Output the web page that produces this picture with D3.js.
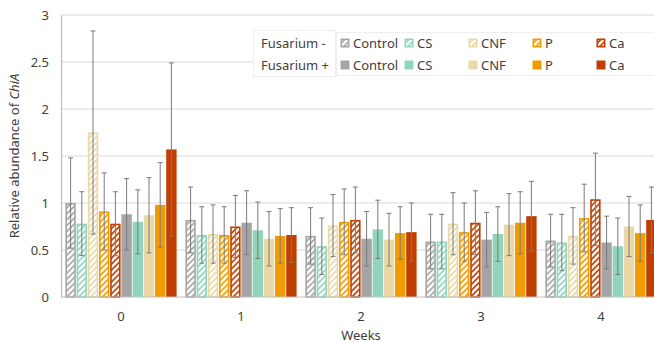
<!DOCTYPE html>
<html>
<head>
<meta charset="utf-8">
<script src="https://cdn.jsdelivr.net/npm/d3@7"></script>
<style>
  body { margin: 0; background: #fff; }
  svg { display: block; font-family: "Noto Sans", "Open Sans", sans-serif; }
</style>
</head>
<body>
<div id="chart"></div>
<script>
// data (relative abundance of ChiA, mean and sd)
const weeks = ["0", "1", "2", "3", "4"]
const treatments = ["Control", "CS", "CNF", "P", "Ca"]
const yTicks = [0, 0.5, 1, 1.5, 2, 2.5, 3]

// Fusarium - (hatched)
const meanMinus = {
  Control: [1.00, 0.82, 0.65, 0.59, 0.60],
  CS:      [0.78, 0.66, 0.54, 0.59, 0.58],
  CNF:     [1.75, 0.67, 0.76, 0.78, 0.65],
  P:       [0.91, 0.66, 0.80, 0.69, 0.84],
  Ca:      [0.78, 0.75, 0.82, 0.79, 1.04]
}
const sdMinus = {
  Control: [0.48, 0.35, 0.30, 0.29, 0.28],
  CS:      [0.34, 0.30, 0.30, 0.29, 0.30],
  CNF:     [1.08, 0.31, 0.33, 0.33, 0.30],
  P:       [0.41, 0.30, 0.35, 0.31, 0.36],
  Ca:      [0.34, 0.33, 0.35, 0.34, 0.49]
}
// Fusarium + (solid)
const meanPlus = {
  Control: [0.88, 0.79, 0.62, 0.61, 0.58],
  CS:      [0.80, 0.71, 0.72, 0.67, 0.54],
  CNF:     [0.87, 0.62, 0.61, 0.77, 0.75],
  P:       [0.98, 0.65, 0.68, 0.79, 0.68],
  Ca:      [1.57, 0.66, 0.69, 0.86, 0.82]
}
const sdPlus = {
  Control: [0.38, 0.34, 0.29, 0.29, 0.28],
  CS:      [0.34, 0.30, 0.31, 0.29, 0.30],
  CNF:     [0.40, 0.29, 0.28, 0.33, 0.32],
  P:       [0.45, 0.29, 0.28, 0.33, 0.30],
  Ca:      [0.92, 0.29, 0.31, 0.37, 0.35]
}

const colors = {
  Control: "#a5a5a5",
  CS: "#92d4bd",
  CNF: "#ead8a6",
  P: "#f09c00",
  Ca: "#bf3f00"
}

const width = 654
const height = 343
const margin = {top: 15, left: 61, bottom: 46}
const textColor = "#404040"

// series order: all Fusarium - first, then Fusarium +
const series = []
for (const t of treatments) series.push({key: t + "-", treat: t, hatched: true, mean: meanMinus[t], sd: sdMinus[t]})
for (const t of treatments) series.push({key: t + "+", treat: t, hatched: false, mean: meanPlus[t], sd: sdPlus[t]})

const bars = []
series.forEach(s => weeks.forEach((w, i) => bars.push({week: w, key: s.key, treat: s.treat, hatched: s.hatched, v: s.mean[i], sd: s.sd[i]})))

const svg = d3.select("#chart").append("svg")
    .attr("width", width)
    .attr("height", height)

const defs = svg.append("defs")
for (const t of treatments) {
  const p = defs.append("pattern")
      .attr("id", "hatch-" + t)
      .attr("patternUnits", "userSpaceOnUse")
      .attr("width", 4.2)
      .attr("height", 4.2)
      .attr("patternTransform", "rotate(45)")
  p.append("rect").attr("width", 4.2).attr("height", 4.2).attr("fill", "#fff")
  p.append("line")
      .attr("x1", 1).attr("x2", 1)
      .attr("y1", 0).attr("y2", 4.2)
      .attr("stroke", colors[t])
      .attr("stroke-width", 1.7)
}

const x0 = d3.scaleBand()
    .domain(weeks)
    .range([margin.left, margin.left + 600])

const x1 = d3.scaleBand()
    .domain(series.map(s => s.key))
    .range([4, x0.bandwidth() - 4])

const y = d3.scaleLinear()
    .domain([0, 3])
    .range([height - margin.bottom, margin.top])

// gridlines
svg.append("g")
  .selectAll("line")
  .data(yTicks.filter(d => d > 0))
  .join("line")
    .attr("x1", margin.left)
    .attr("x2", width)
    .attr("y1", d => y(d))
    .attr("y2", d => y(d))
    .attr("stroke", "#d9d9d9")
    .attr("stroke-width", 1)

// y axis
svg.append("g")
    .attr("transform", `translate(${margin.left},0)`)
    .call(d3.axisLeft(y).tickValues(yTicks).tickFormat(d3.format("")).tickSize(0).tickPadding(12))
    .call(g => g.select(".domain").attr("stroke", "#bfbfbf").attr("stroke-width", 1.2))
    .call(g => g.selectAll("text")
        .attr("font-family", "Noto Sans")
        .attr("font-size", 13)
        .attr("fill", textColor))

// bars
const barG = svg.append("g")
barG.selectAll("rect")
  .data(bars)
  .join("rect")
    .attr("x", d => x0(d.week) + x1(d.key) + (d.hatched ? 1.2 : 0.4))
    .attr("width", d => x1.bandwidth() - (d.hatched ? 2.4 : 0.8))
    .attr("y", d => y(d.v) + (d.hatched ? 0.8 : 0))
    .attr("height", d => y(0) - y(d.v) - (d.hatched ? 0.8 : 0))
    .attr("fill", d => d.hatched ? `url(#hatch-${d.treat})` : colors[d.treat])
    .attr("stroke", d => d.hatched ? colors[d.treat] : "none")
    .attr("stroke-width", 1.6)

// x axis line
svg.append("line")
    .attr("x1", margin.left)
    .attr("x2", width)
    .attr("y1", y(0))
    .attr("y2", y(0))
    .attr("stroke", "#bfbfbf")
    .attr("stroke-width", 1.2)

// error bars
const err = svg.append("g")
    .attr("stroke", "#7a7a7a")
    .attr("stroke-width", 1)
  .selectAll("g")
  .data(bars)
  .join("g")
    .attr("transform", d => `translate(${x0(d.week) + x1(d.key) + x1.bandwidth() / 2},0)`)

err.append("line")
    .attr("y1", d => y(d.v - d.sd))
    .attr("y2", d => y(d.v + d.sd))
err.append("line")
    .attr("x1", -2.5).attr("x2", 2.5)
    .attr("y1", d => y(d.v + d.sd))
    .attr("y2", d => y(d.v + d.sd))
err.append("line")
    .attr("x1", -2.5).attr("x2", 2.5)
    .attr("y1", d => y(d.v - d.sd))
    .attr("y2", d => y(d.v - d.sd))

// week labels
svg.append("g")
    .attr("transform", `translate(0,${y(0)})`)
    .call(d3.axisBottom(x0).tickSize(0).tickPadding(15))
    .call(g => g.select(".domain").remove())
    .call(g => g.selectAll("text")
        .attr("font-family", "Noto Sans")
        .attr("font-size", 13)
        .attr("fill", textColor))

// axis titles
svg.append("text")
    .attr("x", x0(weeks[2]) + x0.bandwidth() / 2)
    .attr("y", 340)
    .attr("text-anchor", "middle")
    .attr("font-size", 13)
    .attr("fill", textColor)
    .text("Weeks")

const yt = svg.append("text")
    .attr("transform", `translate(19,${(y(0) + y(3)) / 2}) rotate(-90)`)
    .attr("text-anchor", "middle")
    .attr("font-size", 13)
    .attr("fill", textColor)
yt.append("tspan").text("Relative abundance of ")
yt.append("tspan").attr("font-style", "italic").text("ChiA")

// legend
const leg = svg.append("g")
leg.append("rect")
    .attr("x", 253.5).attr("y", 30.5)
    .attr("width", 82).attr("height", 46)
    .attr("fill", "#fff")
    .attr("stroke", "#eeeeee")
leg.append("rect")
    .attr("x", 336.5).attr("y", 32.5)
    .attr("width", 330).attr("height", 43)
    .attr("fill", "#fff")
    .attr("stroke", "#eeeeee")

const rowsY = [43, 65]
leg.selectAll("text.row")
  .data(["Fusarium -", "Fusarium +"])
  .join("text")
    .attr("class", "row")
    .attr("x", 261)
    .attr("y", (d, i) => rowsY[i])
    .attr("dy", "0.35em")
    .attr("font-size", 13)
    .attr("fill", textColor)
    .text(d => d)

const entries = leg.selectAll("g.entry")
  .data(series)
  .join("g")
    .attr("class", "entry")
    .attr("transform", d => `translate(${340 + treatments.indexOf(d.treat) * 64},${d.hatched ? rowsY[0] : rowsY[1]})`)

entries.append("rect")
    .attr("x", d => d.hatched ? 1.3 : 0.5)
    .attr("y", d => d.hatched ? -3.7 : -4.5)
    .attr("width", d => d.hatched ? 7.4 : 9)
    .attr("height", d => d.hatched ? 7.4 : 9)
    .attr("fill", d => d.hatched ? `url(#hatch-${d.treat})` : colors[d.treat])
    .attr("stroke", d => d.hatched ? colors[d.treat] : "none")
    .attr("stroke-width", 1.6)

entries.append("text")
    .attr("x", 13)
    .attr("dy", "0.35em")
    .attr("font-size", 13)
    .attr("fill", textColor)
    .text(d => d.treat)
</script>
</body>
</html>
